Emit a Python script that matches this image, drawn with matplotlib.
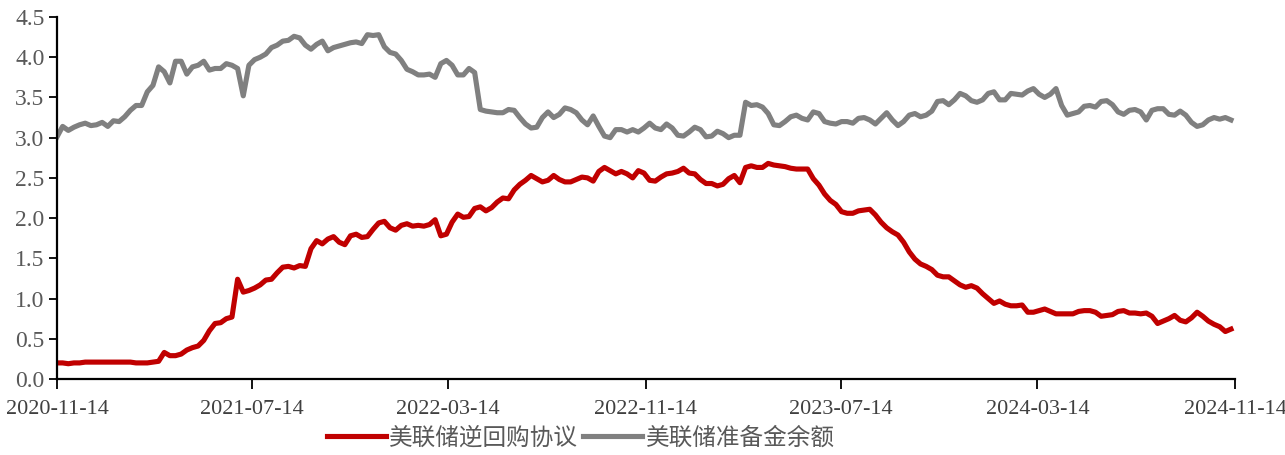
import numpy as np
import pandas as pd
import matplotlib
matplotlib.use('Agg')
import matplotlib.pyplot as plt
import matplotlib.dates as mdates

# weekly observations, trillion USD
dates = pd.date_range('2020-11-14', periods=209, freq='7D')

reverse_repo = [
    0.20, 0.20, 0.19, 0.20, 0.20, 0.21, 0.21, 0.21, 0.21, 0.21,
    0.21, 0.21, 0.21, 0.21, 0.20, 0.20, 0.20, 0.21, 0.22, 0.33,
    0.29, 0.29, 0.31, 0.36, 0.39, 0.41, 0.48, 0.60, 0.69, 0.70,
    0.75, 0.77, 1.24, 1.08, 1.10, 1.13, 1.17, 1.23, 1.24, 1.32,
    1.39, 1.40, 1.38, 1.41, 1.40, 1.62, 1.72, 1.68, 1.74, 1.77,
    1.70, 1.67, 1.78, 1.80, 1.76, 1.77, 1.86, 1.94, 1.96, 1.88,
    1.85, 1.91, 1.93, 1.90, 1.91, 1.90, 1.92, 1.98, 1.78, 1.80,
    1.95, 2.05, 2.01, 2.02, 2.12, 2.14, 2.09, 2.13, 2.20, 2.25,
    2.24, 2.35, 2.42, 2.47, 2.53, 2.49, 2.45, 2.47, 2.53, 2.48,
    2.45, 2.45, 2.48, 2.51, 2.50, 2.46, 2.58, 2.63, 2.59, 2.55,
    2.58, 2.55, 2.50, 2.59, 2.56, 2.47, 2.46, 2.51, 2.55, 2.56,
    2.58, 2.62, 2.56, 2.55, 2.48, 2.43, 2.43, 2.40, 2.42, 2.49,
    2.53, 2.44, 2.63, 2.65, 2.63, 2.63, 2.68, 2.66, 2.65, 2.64,
    2.62, 2.61, 2.61, 2.61, 2.49, 2.41, 2.30, 2.22, 2.17, 2.08,
    2.06, 2.06, 2.09, 2.10, 2.11, 2.04, 1.95, 1.88, 1.83, 1.79,
    1.70, 1.58, 1.49, 1.43, 1.40, 1.36, 1.29, 1.27, 1.27, 1.22,
    1.17, 1.14, 1.16, 1.13, 1.06, 1.00, 0.94, 0.97, 0.93, 0.91,
    0.91, 0.92, 0.83, 0.83, 0.85, 0.87, 0.84, 0.81, 0.81, 0.81,
    0.81, 0.84, 0.85, 0.85, 0.83, 0.78, 0.79, 0.80, 0.84, 0.85,
    0.82, 0.82, 0.81, 0.82, 0.78, 0.69, 0.72, 0.75, 0.79, 0.73,
    0.71, 0.76, 0.83, 0.78, 0.72, 0.68, 0.65, 0.59, 0.62,
]

reserves = [
    3.01, 3.14, 3.09, 3.13, 3.16, 3.18, 3.15, 3.16, 3.19, 3.14,
    3.21, 3.20, 3.26, 3.34, 3.40, 3.40, 3.57, 3.65, 3.88, 3.82,
    3.68, 3.95, 3.95, 3.79, 3.88, 3.90, 3.95, 3.84, 3.86, 3.86,
    3.92, 3.90, 3.86, 3.52, 3.90, 3.97, 4.00, 4.04, 4.12, 4.15,
    4.20, 4.21, 4.26, 4.24, 4.15, 4.10, 4.16, 4.20, 4.08, 4.12,
    4.14, 4.16, 4.18, 4.19, 4.17, 4.28, 4.27, 4.28, 4.13, 4.06,
    4.04, 3.96, 3.85, 3.82, 3.78, 3.78, 3.79, 3.75, 3.92, 3.96,
    3.90, 3.78, 3.78, 3.86, 3.81, 3.35, 3.33, 3.32, 3.31, 3.31,
    3.35, 3.34, 3.25, 3.17, 3.12, 3.13, 3.25, 3.32, 3.25, 3.29,
    3.37, 3.35, 3.31, 3.22, 3.16, 3.27, 3.14, 3.02, 3.00, 3.10,
    3.10, 3.07, 3.10, 3.07, 3.12, 3.18, 3.12, 3.10, 3.17, 3.12,
    3.03, 3.02, 3.07, 3.13, 3.10, 3.01, 3.02, 3.08, 3.05, 3.00,
    3.03, 3.03, 3.44, 3.40, 3.41, 3.38, 3.30, 3.16, 3.15, 3.20,
    3.26, 3.28, 3.24, 3.22, 3.32, 3.30, 3.20, 3.18, 3.17, 3.20,
    3.20, 3.18, 3.24, 3.25, 3.22, 3.17, 3.24, 3.31, 3.22, 3.15,
    3.20, 3.28, 3.30, 3.26, 3.28, 3.33, 3.45, 3.46, 3.41, 3.47,
    3.55, 3.52, 3.46, 3.44, 3.47, 3.55, 3.57, 3.47, 3.47, 3.55,
    3.54, 3.53, 3.58, 3.61, 3.54, 3.50, 3.54, 3.61, 3.40, 3.28,
    3.30, 3.32, 3.39, 3.40, 3.38, 3.45, 3.46, 3.41, 3.32, 3.29,
    3.34, 3.35, 3.32, 3.22, 3.34, 3.36, 3.36, 3.29, 3.28, 3.33,
    3.28, 3.19, 3.14, 3.16, 3.22, 3.25, 3.23, 3.25, 3.22,
]

labels = ['美联储逆回购协议', '美联储准备金余额']
tick_dates = ['2020-11-14', '2021-07-14', '2022-03-14', '2022-11-14',
              '2023-07-14', '2024-03-14', '2024-11-14']

serif = ['Liberation Serif', 'DejaVu Serif']
cjk = ['Noto Sans CJK SC', 'DejaVu Sans']

fig = plt.figure(figsize=(12.85, 4.55), dpi=100)
ax = fig.add_axes([57/1285, 1 - 379/455, 1178/1285, 362/455])

ax.plot(dates, reverse_repo, color='#C00000', lw=3.7, label=labels[0])
ax.plot(dates, reserves, color='#808080', lw=3.7, label=labels[1])

ax.set_xlim(pd.Timestamp('2020-11-14'), pd.Timestamp('2024-11-14'))
ax.set_ylim(0, 4.5)
ax.set_yticks(np.arange(0, 4.51, 0.5))
ax.yaxis.set_major_formatter(plt.FormatStrFormatter('%.1f'))
ax.set_xticks(pd.to_datetime(tick_dates))
ax.xaxis.set_major_formatter(mdates.DateFormatter('%Y-%m-%d'))

for s in ['top', 'right']:
    ax.spines[s].set_visible(False)
for s in ['left', 'bottom']:
    ax.spines[s].set_linewidth(1.6)
    ax.spines[s].set_color('black')

ax.tick_params(axis='y', length=6, width=1.3, pad=3, labelsize=17, labelcolor='#595959')
ax.tick_params(axis='x', length=7, width=1.3, pad=8, labelsize=16, labelcolor='#404040')
for t in ax.get_xticklabels() + ax.get_yticklabels():
    t.set_fontfamily(serif)

fig.legend(loc='center', bbox_to_anchor=(0.452, 1 - 438/455), ncol=2, frameon=False,
           handlelength=2.5, handletextpad=0.15, columnspacing=0.2,
           prop={'family': cjk, 'size': 17}, labelcolor='#595959')

fig.savefig('out.png', dpi=100)
